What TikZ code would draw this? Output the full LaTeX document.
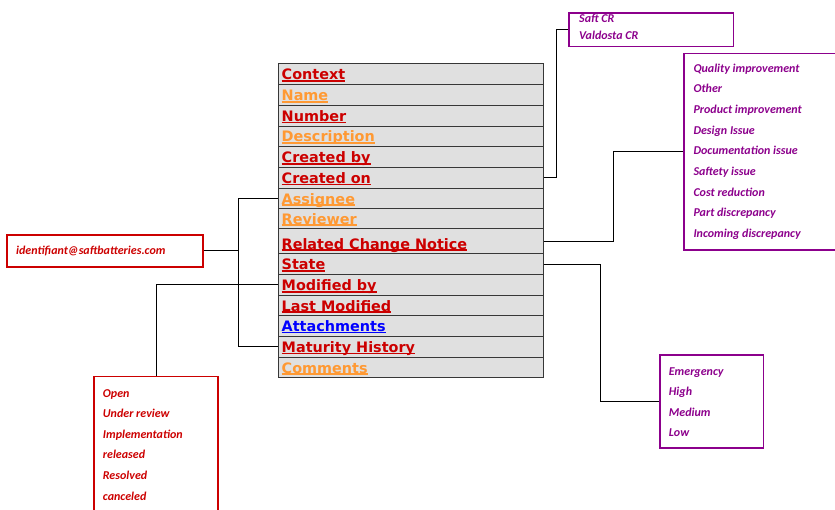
\documentclass[tikz,border=0pt]{standalone}
\usepackage{fontspec}
\setmainfont{DejaVu Sans}
\newfontfamily\boxfont{Carlito}

\definecolor{fieldred}{RGB}{204,0,0}
\definecolor{fieldorange}{RGB}{255,153,51}
\definecolor{fieldblue}{RGB}{0,0,255}
\definecolor{rowgray}{RGB}{224,224,224}
\definecolor{rowline}{RGB}{55,55,55}
\definecolor{listpurple}{RGB}{140,0,140}
\definecolor{listred}{RGB}{204,0,0}

% underline at a fixed depth, crossing descenders
\newcommand\fieldul[1]{\setbox0\hbox{#1}\rlap{\rule[-1.9pt]{\wd0}{1.5pt}}\box0}

\tikzset{
  row/.style={draw=rowline, line width=0.9pt, fill=rowgray, minimum width=265pt,
              inner sep=0pt, anchor=north west},
  field/.style={font=\fontsize{14.4}{14.4}\selectfont\bfseries, anchor=base west, inner sep=0pt},
  listbox/.style={line width=1.5pt, anchor=north west, inner sep=0pt},
  item/.style={font=\boxfont\fontsize{12}{12}\selectfont\bfseries\itshape,
               anchor=base west, inner sep=0pt},
  link/.style={draw=black, line width=1pt}
}

\begin{document}
\begin{tikzpicture}[x=1pt,y=-1pt]
\useasboundingbox (0,0) rectangle (835,509);

% attribute table
\foreach \i/\ya/\yb/\txt/\col in {
  0/63.3/84/Context/fieldred,
  1/84/105/Name/fieldorange,
  2/105/125.7/Number/fieldred,
  3/125.7/146/Description/fieldorange,
  4/146/167/Created by/fieldred,
  5/167/187.7/Created on/fieldred,
  6/187.7/208.3/Assignee/fieldorange,
  7/208.3/228.3/Reviewer/fieldorange,
  8/228.3/253.3/Related Change Notice/fieldred,
  9/253.3/274/State/fieldred,
  10/274/295/Modified by/fieldred,
  11/295/315.3/Last Modified/fieldred,
  12/315.3/335.7/Attachments/fieldblue,
  13/335.7/356.7/Maturity History/fieldred,
  14/356.7/377.3/Comments/fieldorange}{
  \node[row, minimum height={\yb-\ya}] (row\i) at (277.7,\ya) {};
  \node[field, text=\col] (lbl\i) at (281.5,\yb-4.3) {\fieldul{\txt}};
}

% value lists
\node[listbox, draw=listpurple, minimum width=164.4pt, minimum height=33.7pt] (saft) at (568.3,12) {};
\foreach \t [count=\k from 0] in {Saft CR, Valdosta CR}
  \node[item, text=listpurple] (saft\k) at (579,22+17*\k) {\t};

\node[listbox, draw=listpurple, minimum width=160pt, minimum height=196.3pt] (issue) at (683.3,52.7) {};
\foreach \t [count=\k from 0] in {Quality improvement, Other, Product improvement, Design Issue,
    Documentation  issue, Saftety issue, Cost reduction, Part discrepancy, Incoming discrepancy}
  \node[item, text=listpurple] (issue\k) at (693.3,72+20.7*\k) {\t};

\node[listbox, draw=listpurple, minimum width=103.7pt, minimum height=93pt] (prio) at (659,354.3) {};
\foreach \t [count=\k from 0] in {Emergency, High, Medium, Low}
  \node[item, text=listpurple] (prio\k) at (668.7,375.3+20.5*\k) {\t};

\node[listbox, draw=listred, minimum width=124pt, minimum height=145pt] (stbox) at (93.3,375.7) {};
\foreach \t [count=\k from 0] in {Open, Under review, Implementation, released, Resolved, canceled}
  \node[item, text=listred] (st\k) at (102.7,397+20.6*\k) {\t};

\node[listbox, draw=listred, line width=1.8pt, minimum width=195.7pt, minimum height=32.6pt] (email) at (6,233.7) {};
\node[item, text=listred] (emailtxt) at (16,254.5) {identifiant@saftbatteries.com};

% connectors
\coordinate (bus) at (238.7,0);
\draw[link] (saft.west) -- ++(-11.6,0) |- (row5.east);
\draw[link] (issue.west) -- ++(-70,0) |- (row8.east);
\draw[link] (row9.east) -- ++(57.3,0) |- (prio.west);
\draw[link] (row6.west) -| (bus |- row13.west) -- (row13.west);
\draw[link] (email.east) -- (email.east -| bus);
\draw[link] (row10.west) -| (stbox.north);
\end{tikzpicture}
\end{document}
